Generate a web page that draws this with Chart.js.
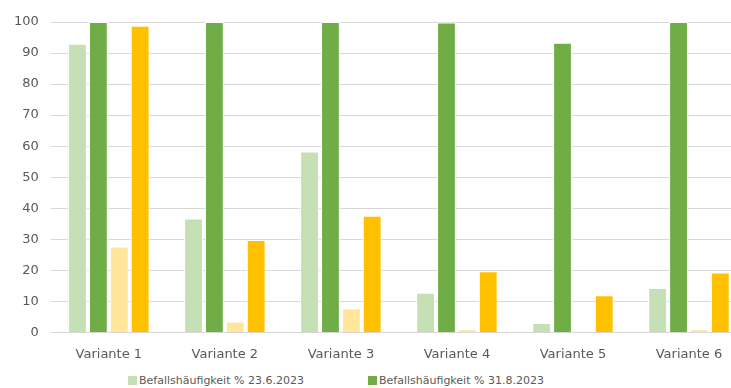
<!DOCTYPE html>
<html>
<head>
<meta charset="utf-8">
<script src="https://cdn.jsdelivr.net/npm/chart.js@4"></script>
<style>
  html, body { margin: 0; padding: 0; background: #fff; overflow: hidden; }
  #wrap { position: relative; width: 753px; height: 420px; }
  #legende { position: absolute; left: 0; top: 374px; width: 731px; font: 11px "DejaVu Sans", sans-serif; color: #595959; }
  .eintrag { position: absolute; white-space: nowrap; line-height: 14px; }
  .eintrag span { display: inline-block; width: 9px; height: 9px; margin-right: 2px; vertical-align: -1px; }
</style>
</head>
<body>
<div id="wrap">
  <canvas id="myChart" width="753" height="368"></canvas>
  <div id="legende"></div>
</div>
<script>
let varianten = ['Variante 1', 'Variante 2', 'Variante 3', 'Variante 4', 'Variante 5', 'Variante 6'];
let haeufigkeitJuni = [93, 36.7, 58.3, 12.8, 3, 14.3];
let haeufigkeitAugust = [100, 100, 100, 99.8, 93.3, 100];
let staerkeJuni = [27.7, 3.5, 7.7, 1, 0, 1];
let staerkeAugust = [98.8, 29.8, 37.6, 19.7, 12, 19.3];
let yTicks = [0, 10, 20, 30, 40, 50, 60, 70, 80, 90, 100];

let reihen = [
  { name: 'Befallshäufigkeit % 23.6.2023', werte: haeufigkeitJuni, farbe: '#C5E0B4' },
  { name: 'Befallshäufigkeit % 31.8.2023', werte: haeufigkeitAugust, farbe: '#70AD47' },
  { name: 'Befallsstärke % 23.6.2023', werte: staerkeJuni, farbe: '#FFE699' },
  { name: 'Befallsstärke % 31.8.2023', werte: staerkeAugust, farbe: '#FFC000' }
];

crearGrafica();
crearLeyenda();

function crearGrafica() {
    const ctx = document.getElementById('myChart');

    new Chart(ctx, {
        type: 'bar',
        data: {
          labels: varianten,
          datasets: reihen.map(r => ({
            label: r.name,
            data: r.werte,
            backgroundColor: r.farbe,
            borderColor: '#ffffff',
            borderWidth: 1,
            barPercentage: 0.9,
            categoryPercentage: 0.72
          }))
        },
        options: {
          responsive: false,
          animation: false,
          layout: { padding: { top: 22, left: 2, right: 6, bottom: 0 } },
          plugins: {
            legend: { display: false },
            tooltip: { enabled: false }
          },
          scales: {
            x: {
              grid: { display: false },
              border: { display: false },
              ticks: {
                color: '#595959',
                font: { family: 'DejaVu Sans', size: 13 },
                padding: 6
              }
            },
            y: {
              min: 0,
              max: 100,
              afterBuildTicks: axis => { axis.ticks = yTicks.map(v => ({ value: v })); },
              grid: { color: '#d9d9d9', lineWidth: 1, drawTicks: false },
              border: { display: false },
              ticks: {
                color: '#595959',
                font: { family: 'DejaVu Sans', size: 13 },
                padding: 12
              }
            }
          }
        }
      });
}

function crearLeyenda() {
    const box = document.getElementById('legende');
    const posX = [128, 368, 128, 368];
    const posY = [0, 0, 22, 22];
    reihen.forEach((r, i) => {
        const el = document.createElement('div');
        el.className = 'eintrag';
        el.style.left = posX[i] + 'px';
        el.style.top = posY[i] + 'px';
        const sq = document.createElement('span');
        sq.style.background = r.farbe;
        el.appendChild(sq);
        el.appendChild(document.createTextNode(r.name));
        box.appendChild(el);
    });
}
</script>
</body>
</html>
